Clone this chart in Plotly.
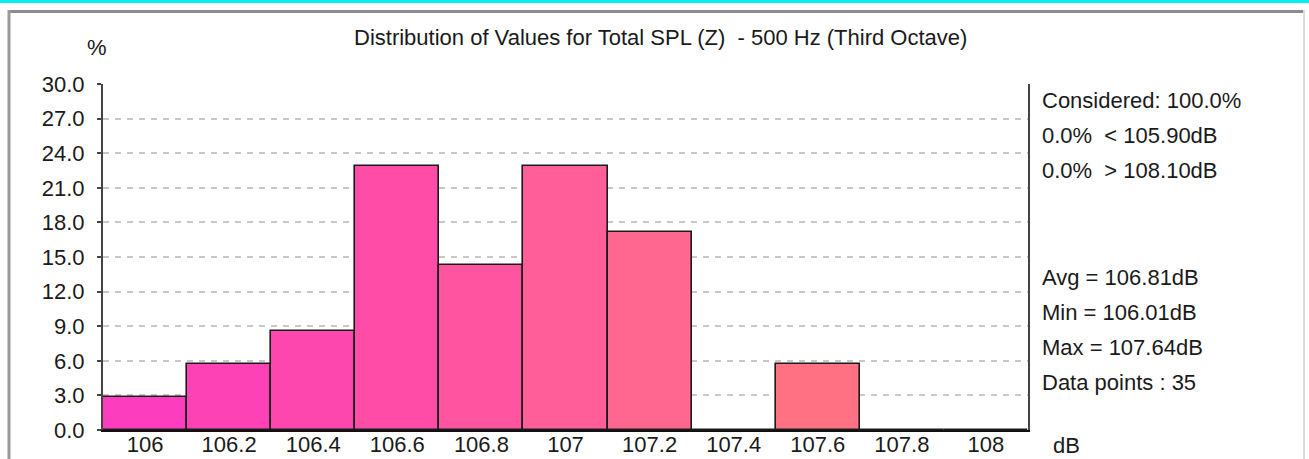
import plotly.graph_objects as go

# ---- data ----
bins = ["106", "106.2", "106.4", "106.6", "106.8", "107", "107.2", "107.4", "107.6", "107.8", "108"]
percent = [2.86, 5.71, 8.57, 22.86, 14.29, 22.86, 17.14, 0.0, 5.71, 0.0, 0.0]
bar_colors = ["#FC3EBE", "#FD42B6", "#FE47AE", "#FF4CA7", "#FF55A1", "#FF5E98",
              "#FF6690", "#FF6B8A", "#FF7183", "#FF7480", "#FF787C"]
title_text = "Distribution of Values for Total SPL (Z)  - 500 Hz (Third Octave)"
stats_top = ["Considered: 100.0%", "0.0%  < 105.90dB", "0.0%  > 108.10dB"]
stats_bottom = ["Avg = 106.81dB", "Min = 106.01dB", "Max = 107.64dB", "Data points : 35"]
y_ticks = [0, 3, 6, 9, 12, 15, 18, 21, 24, 27, 30]

W, H = 1309, 459
L, R, T, B = 103, 1028, 84, 430  # plot area in pixels

def px(x):
    return (x - L) / (R - L)

def py(y):
    return (B - y) / (B - T)

FONT = "Liberation Sans, Arial, sans-serif"
TXT = "#1a1a1a"

fig = go.Figure()
fig.add_trace(go.Bar(
    x=bins, y=percent,
    marker=dict(color=bar_colors, line=dict(color="#1a1a1a", width=1.6)),
    width=1.0,
))

fig.update_layout(
    width=W, height=H,
    margin=dict(l=L, r=W - R, t=T, b=H - B, pad=0, autoexpand=False),
    paper_bgcolor="white", plot_bgcolor="white",
    showlegend=False, bargap=0,
    font=dict(family=FONT, size=22, color=TXT),
)
fig.update_xaxes(
    type="category", range=[-0.5, 10.5], automargin=False,
    showgrid=False, showline=True, linecolor="#111", linewidth=2,
    ticks="", tickfont=dict(size=22, color=TXT), ticklabelstandoff=-6,
    fixedrange=True, zeroline=False,
)
fig.update_yaxes(
    range=[0, 30], tickvals=y_ticks, tickformat=".1f", automargin=False,
    showgrid=True, gridcolor="#c8c8c8", gridwidth=1.5, griddash="6px,6px",
    showline=True, linecolor="#444", linewidth=2, mirror=True,
    ticks="outside", ticklen=4, tickcolor="#444", tickwidth=1.5,
    ticklabelstandoff=8, tickfont=dict(size=22, color=TXT),
    zeroline=False, fixedrange=True,
)

shapes = []
# cyan strip at top
shapes.append(dict(type="rect", xref="paper", yref="paper", x0=px(-5), x1=px(W + 5), y0=py(3), y1=py(-5),
                   fillcolor="#00F0F0", line=dict(width=0), layer="above"))
# frame borders
shapes.append(dict(type="line", xref="paper", yref="paper", x0=px(8), x1=px(1305), y0=py(11.5), y1=py(11.5),
                   line=dict(color="#8c8c8c", width=3)))
shapes.append(dict(type="line", xref="paper", yref="paper", x0=px(9), x1=px(9), y0=py(10), y1=py(H + 5),
                   line=dict(color="#9a9a9a", width=3)))
shapes.append(dict(type="line", xref="paper", yref="paper", x0=px(1304), x1=px(1304), y0=py(10), y1=py(H + 5),
                   line=dict(color="#dcdcdc", width=2)))
fig.update_layout(shapes=shapes)

ann = []
ann.append(dict(text=title_text, xref="paper", yref="paper", x=px(660), y=py(38),
                xanchor="center", yanchor="middle", showarrow=False))
ann.append(dict(text="%", xref="paper", yref="paper", x=px(97), y=py(48),
                xanchor="center", yanchor="middle", showarrow=False))
ann.append(dict(text="dB", xref="paper", yref="paper", x=px(1066), y=py(445),
                xanchor="center", yanchor="middle", showarrow=False))
for txt, yy in zip(stats_top, [100, 135, 170]):
    ann.append(dict(text=txt, xref="paper", yref="paper", x=px(1040), y=py(yy),
                    xanchor="left", yanchor="middle", showarrow=False))
for txt, yy in zip(stats_bottom, [277, 312, 347, 382]):
    ann.append(dict(text=txt, xref="paper", yref="paper", x=px(1040), y=py(yy),
                    xanchor="left", yanchor="middle", showarrow=False))
fig.update_layout(annotations=ann)

fig.write_html("out.html", config={"displayModeBar": False},
               post_script="document.body.style.margin='0px';document.body.style.overflow='hidden';")
